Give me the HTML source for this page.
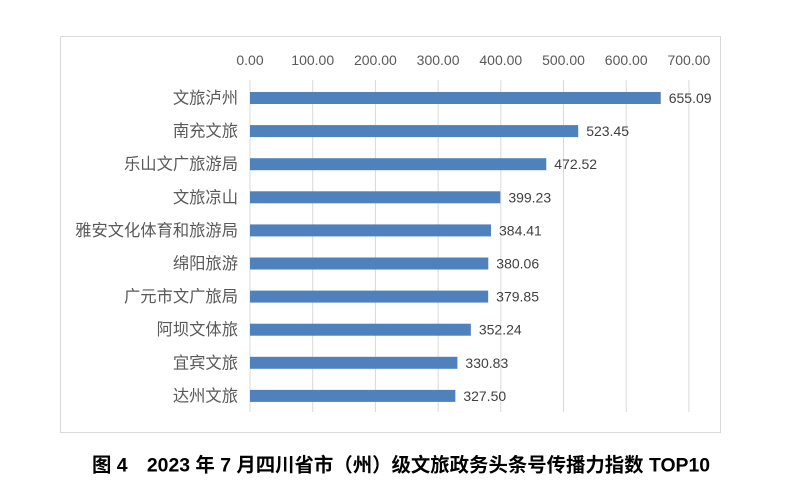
<!DOCTYPE html>
<html><head><meta charset="utf-8"><style>
body{margin:0;background:#fff;width:800px;height:499px;overflow:hidden;font-family:"Liberation Sans","Noto Sans CJK SC",sans-serif}
</style></head><body>
<svg id="chart" width="800" height="499">
<rect x="60.5" y="36.5" width="660" height="396" fill="#fff" stroke="#d9d9d9"/>
<g id="grid"></g><g id="bars"></g>
<text x="401" y="471.5" text-anchor="middle" font-size="19.4" font-weight="bold" fill="#000">图 4　2023 年 7 月四川省市（州）级文旅政务头条号传播力指数 TOP10</text>
</svg>
<script>
const categories=["文旅泸州","南充文旅","乐山文广旅游局","文旅凉山","雅安文化体育和旅游局","绵阳旅游","广元市文广旅局","阿坝文体旅","宜宾文旅","达州文旅"];
const values=[655.09,523.45,472.52,399.23,384.41,380.06,379.85,352.24,330.83,327.50];
const ticks=[0,100,200,300,400,500,600,700];
const NS="http://www.w3.org/2000/svg";
const x=v=>250+v*0.627;
const y=i=>98+i*33.1;
function mk(t,a,p){const e=document.createElementNS(NS,t);for(const k in a)e.setAttribute(k,a[k]);p.appendChild(e);return e;}
const g=document.getElementById('grid'),b=document.getElementById('bars');
ticks.forEach(t=>{
 const l=mk('line',{x1:x(t),x2:x(t),y1:80,y2:412,stroke:'#d9d9d9','stroke-width':1},g);
 
 
 const tx=mk('text',{x:x(t),y:65,'text-anchor':'middle','font-size':14,fill:'#595959'},g);
 tx.textContent=t.toFixed(2);
 
 
});
categories.forEach((c,i)=>{
 const r=mk('rect',{x:x(0),y:y(i)-6,width:x(values[i])-x(0),height:12,fill:'#4f81bd'},b);
 
 
 const lb=mk('text',{x:238,y:y(i)+5.5,'text-anchor':'end','font-size':16.3,fill:'#595959'},b);
 lb.textContent=c;
 
 
 const v=mk('text',{x:x(values[i])+8,y:y(i)+5,'font-size':14,fill:'#404040'},b);
 v.textContent=values[i].toFixed(2);
 
 
});
</script>
</body></html>
